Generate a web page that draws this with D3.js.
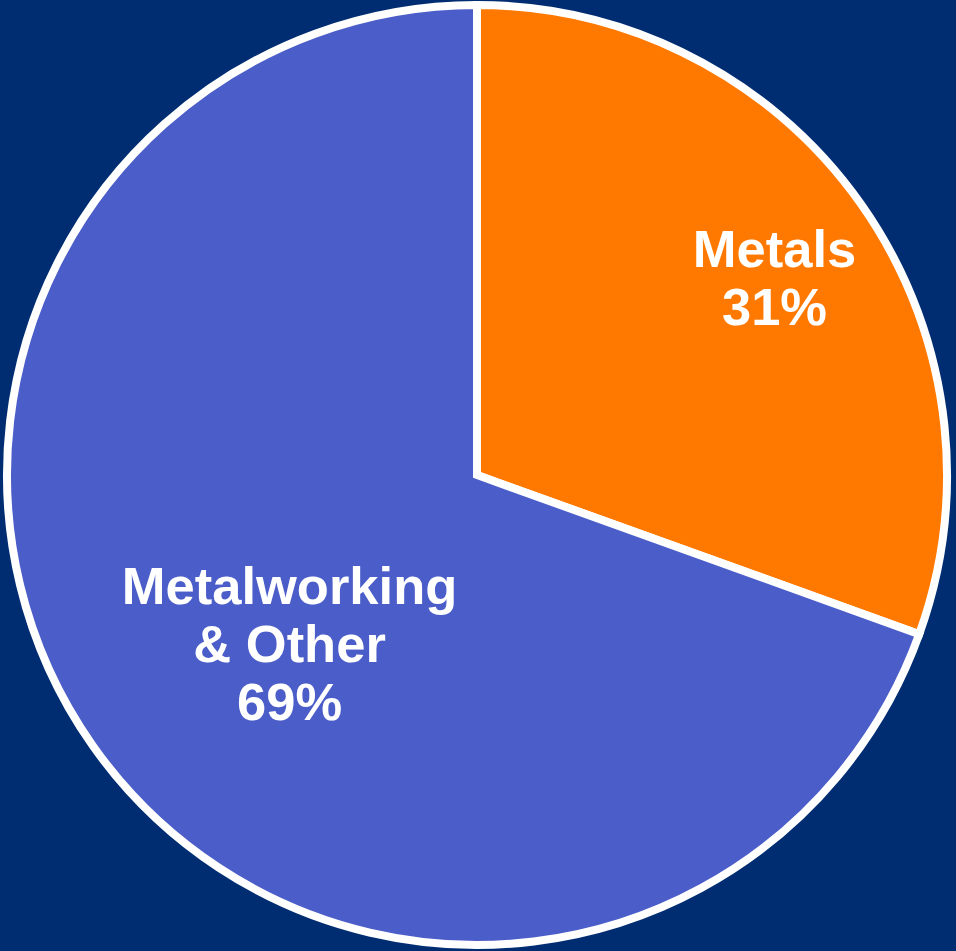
<!DOCTYPE html>
<html>
<head>
<meta charset="utf-8">
<script src="https://cdn.jsdelivr.net/npm/d3@7"></script>
<style>
html,body{margin:0;padding:0;background:#002D72;}
svg{display:block;}
</style>
</head>
<body>
<script>
// Data
const categories = ["Metals", "Metalworking & Other"];
const values = [30.5, 69.5];
const percentLabels = ["31%", "69%"];
const labelLines = [["Metals"], ["Metalworking", "& Other"]];

// Layout
const W = 956, H = 951;
const cx = 477, cy = 475, R = 470;
const colors = d3.scaleOrdinal().domain(categories).range(["#FF7800", "#4A5DC8"]);

const svg = d3.select("body").append("svg").attr("width", W).attr("height", H);
svg.append("rect").attr("width", W).attr("height", H).attr("fill", "#002D72");

const pie = d3.pie().sort(null).value(d => d.value);
const arcs = pie(categories.map((c, i) => ({cat: c, value: values[i], pct: percentLabels[i], lines: labelLines[i]})));
const arc = d3.arc().innerRadius(0).outerRadius(R);

const g = svg.append("g").attr("transform", `translate(${cx},${cy})`);
g.selectAll("path").data(arcs).join("path")
  .attr("d", arc)
  .attr("fill", d => colors(d.data.cat))
  .attr("stroke", "#ffffff")
  .attr("stroke-width", 8)
  .attr("stroke-linejoin", "miter");

// label placement: radius fraction and angle offset (radians) per slice
const labelRadius = [0.76, 0.535];
const labelAngleShift = [0.026, -0.117];
const fontSize = 52.5, lineH = 58;

arcs.forEach((d, i) => {
  const a = (d.startAngle + d.endAngle) / 2 + labelAngleShift[i];
  const r = R * labelRadius[i];
  const x = Math.sin(a) * r, y = -Math.cos(a) * r;
  const lines = d.data.lines.concat([d.data.pct]);
  const n = lines.length;
  const t = g.append("text")
    .attr("text-anchor", "middle")
    .attr("font-family", "Liberation Sans, Arial, sans-serif")
    .attr("font-weight", "bold")
    .attr("font-size", fontSize)
    .attr("fill", "#ffffff");
  lines.forEach((ln, k) => {
    t.append("tspan")
      .attr("x", x)
      .attr("y", y + (k - (n - 1) / 2) * lineH + fontSize * 0.36)
      .text(ln);
  });
});
</script>
</body>
</html>
